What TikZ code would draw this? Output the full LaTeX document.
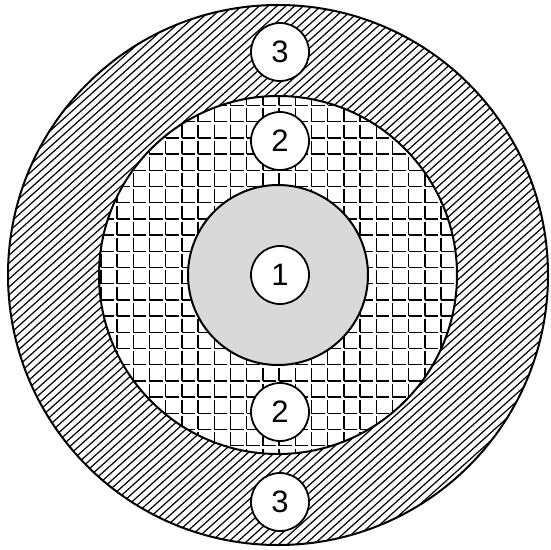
\documentclass[tikz,border=0pt]{standalone}
\usepackage{fontspec}
\setmainfont{Liberation Sans}
\begin{document}
\begin{tikzpicture}[x=1pt,y=-1pt,
  ring/.style={draw=black, line width=2pt},
  lab/.style={circle, draw=black, line width=1.8pt, fill=white, minimum size=58pt, inner sep=0pt, font=\fontsize{31}{31}\selectfont},
  hatchline/.style={line width=1.2pt},
  gridline/.style={line width=1.4pt}]
\useasboundingbox (0,0) rectangle (551,549);
\coordinate (C) at (278,275);
% outer ring hatching
\begin{scope}
  \clip (C) circle (270pt);
  \begin{scope}[shift={(C)}, rotate=42]
    \foreach \k in {-50,...,50} \draw[hatchline] (-300,\k*5.9) -- (300,\k*5.9);
  \end{scope}
\end{scope}
% middle ring grid
\begin{scope}
  \clip (C) circle (179pt);
  \fill[white] (C) circle (179pt);
  \foreach \i in {-12,...,12}
    \draw[gridline, dash pattern=on 13.2pt off 3pt, dash phase=13.2pt]
      ({279+\i*16.2},{235-16.2*13}) -- ({279+\i*16.2},{235+16.2*14});
  \foreach \j in {-13,...,14}
    \draw[gridline, dash pattern=on 13.2pt off 3pt]
      ({279-16.2*12},{235+\j*16.2}) -- ({279+16.2*12},{235+\j*16.2});
\end{scope}
% inner stippled disc
\fill[black!15] (C) circle (90pt);
% outlines
\draw[ring] (C) circle (270pt);
\draw[ring] (C) circle (179pt);
\draw[ring] (C) circle (90pt);
% labels
\node[lab] (l3a) at (280,52) {3};
\node[lab] (l2a) at (280,141) {2};
\node[lab] (l1) at (280,275) {1};
\node[lab] (l2b) at (280,412) {2};
\node[lab] (l3b) at (280,502) {3};
\end{tikzpicture}
\end{document}
